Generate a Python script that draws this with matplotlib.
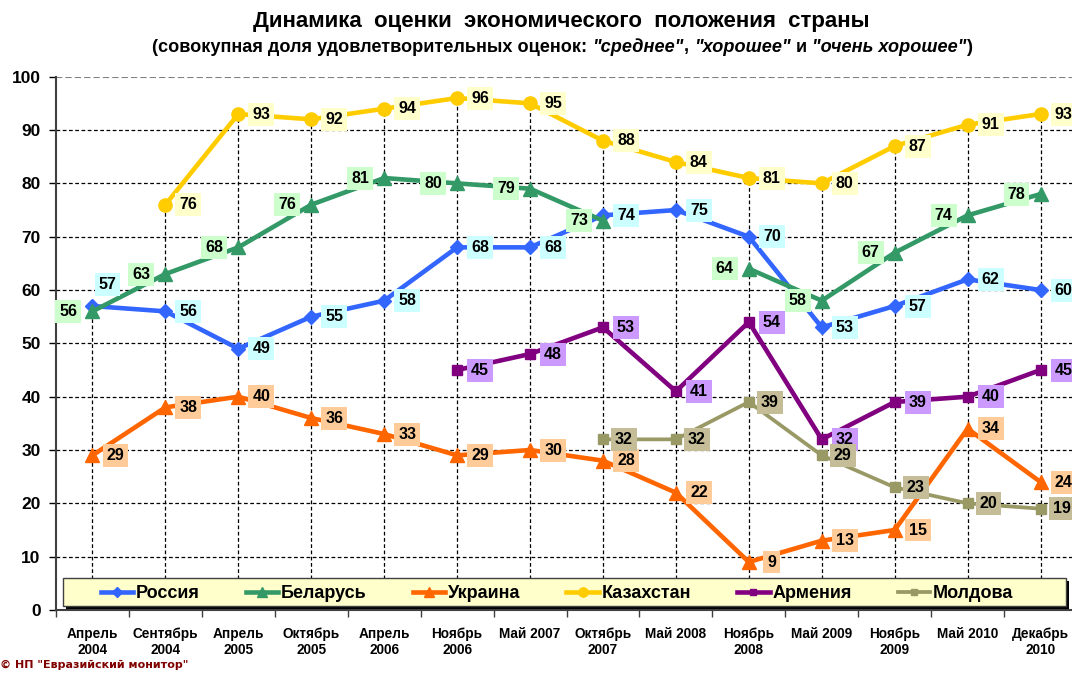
import numpy as np
import matplotlib
matplotlib.use('Agg')
import matplotlib.pyplot as plt
from matplotlib.lines import Line2D
from matplotlib.patches import Rectangle

plt.rcParams['font.family'] = ['Liberation Sans', 'DejaVu Sans']

nan = np.nan
periods = ['Апрель\n2004', 'Сентябрь\n2004', 'Апрель\n2005', 'Октябрь\n2005', 'Апрель\n2006',
           'Ноябрь\n2006', 'Май 2007', 'Октябрь\n2007', 'Май 2008', 'Ноябрь\n2008', 'Май 2009',
           'Ноябрь\n2009', 'Май 2010', 'Декабрь\n2010']

russia = [57, 56, 49, 55, 58, 68, 68, 74, 75, 70, 53, 57, 62, 60]
belarus = [56, 63, 68, 76, 81, 80, 79, 73, nan, 64, 58, 67, 74, 78]
ukraine = [29, 38, 40, 36, 33, 29, 30, 28, 22, 9, 13, 15, 34, 24]
kazakhstan = [nan, 76, 93, 92, 94, 96, 95, 88, 84, 81, 80, 87, 91, 93]
armenia = [nan, nan, nan, nan, nan, 45, 48, 53, 41, 54, 32, 39, 40, 45]
moldova = [nan, nan, nan, nan, nan, nan, nan, 32, 32, 39, 29, 23, 20, 19]

series = [
    # name, values, line colour, marker, size, width, label box colour, label offset (px)
    ('Россия', russia, '#3366FF', 'D', 7.5, 3.3, '#CCFFFF', (23, 0)),
    ('Беларусь', belarus, '#339966', '^', 10.5, 3.3, '#CCFFCC', (-24, 0)),
    ('Украина', ukraine, '#FF6600', '^', 10.5, 3.3, '#FFCC99', (23, 0)),
    ('Казахстан', kazakhstan, '#FFCC00', 'o', 9.5, 3.3, '#FFFFCC', (23, 0)),
    ('Армения', armenia, '#800080', 's', 7.0, 3.3, '#CC99FF', (23, 0)),
    ('Молдова', moldova, '#999966', 's', 6.5, 2.7, '#C4BD97', (21, 0)),
]

W, H = 1072, 673
fig = plt.figure(figsize=(W / 100, H / 100), dpi=100)
ax = fig.add_axes([56 / W, 63 / H, 1021 / W, 533.3 / H])

x = np.arange(len(periods))
ax.set_xlim(-0.5, len(periods) - 0.5)
ax.set_ylim(0, 100)

# grid lines and drop lines
for v in range(10, 100, 10):
    ax.axhline(v, color='black', lw=0.9, ls=(0, (3, 2)), zorder=1)
ax.axhline(100, color='#808080', lw=1.5, ls=(0, (3, 1.5)), zorder=1)
top = np.nanmax(np.array([s[1] for s in series], dtype=float), axis=0)
ax.vlines(x, 0, top, colors='black', lw=0.9, linestyles=(0, (3, 2)), zorder=1)

for name, vals, col, mk, ms, lw, boxcol, off in series:
    vals = np.array(vals, dtype=float)
    ax.plot(x, vals, color=col, lw=lw, marker=mk, ms=ms, mec=col, mfc=col,
            zorder=3, clip_on=False)
    for i, v in enumerate(vals):
        if np.isnan(v):
            continue
        o = off
        if name == 'Россия' and i == 0:
            o = (15, 22)
        ax.annotate(f'{v:.0f}', (x[i], v), xytext=o, textcoords='offset pixels',
                    ha='center', va='center', fontsize=11.5, fontweight='bold',
                    bbox=dict(boxstyle='square,pad=0.25', fc=boxcol, ec='none'),
                    zorder=4, annotation_clip=False)

# axes styling
for s in ['top', 'right']:
    ax.spines[s].set_visible(False)
for s in ['left', 'bottom']:
    ax.spines[s].set_color('#404040')
    ax.spines[s].set_linewidth(1.5)

ax.set_yticks(range(0, 101, 10))
ax.tick_params(axis='y', labelsize=12.5, length=5, width=1, pad=6)
for t in ax.get_yticklabels():
    t.set_fontweight('bold')

ax.set_xticks(x)
ax.set_xticklabels(periods, fontsize=9.8, fontweight='bold', linespacing=1.2, va='top')
ax.set_xticks(np.arange(-0.5, len(periods), 1), minor=True)
ax.tick_params(axis='x', which='major', length=0, pad=12)
ax.tick_params(axis='x', which='minor', length=5, width=1, color='#404040')

# legend box with shadow, then the entries
bx0, bx1, by0, by1 = 63, 1066, 578, 606
to_ax = lambda px, py: ((px - 56) / 1021, (610 - py) / 533.3)
sx, sy = to_ax(bx0 + 3, by1 + 3)
bw = (bx1 - bx0) / 1021
bh = (by1 - by0) / 533.3
ax.add_patch(Rectangle((sx, sy), bw, bh, transform=ax.transAxes, fc='black',
                       ec='none', zorder=5, clip_on=False))
lx, ly = to_ax(bx0, by1)
ax.add_patch(Rectangle((lx, ly), bw, bh, transform=ax.transAxes, fc='#FFFFCC',
                       ec='#404040', lw=1, zorder=5.5, clip_on=False))

handles = [Line2D([], [], color=c, lw=lw, marker=mk, ms=ms * 0.7, mfc=c, mec=c)
           for name, v, c, mk, ms, lw, b, o in series]
cx, cy = to_ax(557, 594)
leg = ax.legend(handles, [s[0] for s in series], loc='center', bbox_to_anchor=(cx, cy),
                ncol=6, prop={'weight': 'bold', 'size': 13}, handlelength=1.8,
                handletextpad=0.15, columnspacing=2.55, borderaxespad=0, borderpad=0,
                frameon=False)
leg.set_zorder(6)

# titles
fig.text(561 / W, 1 - 22 / H, 'Динамика  оценки  экономического  положения  страны',
         ha='center', va='center', fontsize=16, fontweight='bold')

sub_parts = [('(совокупная доля удовлетворительных оценок:', 'normal'), (' ', 'normal'),
             ('"среднее"', 'italic'), (',', 'normal'), (' ', 'normal'),
             ('"хорошее"', 'italic'), (' ', 'normal'), ('и', 'normal'), (' ', 'normal'),
             ('"очень хорошее"', 'italic'), (')', 'normal')]
sub_size = 13.1
r = fig.canvas.get_renderer()


def text_w(s, st):
    t = fig.text(0, 0, s, fontsize=sub_size, fontweight='bold', style=st)
    w = t.get_window_extent(renderer=r).width
    t.remove()
    return w


space_w = text_w('x x', 'normal') - text_w('xx', 'normal')
widths = [space_w if s == ' ' else text_w(s, st) for s, st in sub_parts]
xpos = 562 - sum(widths) / 2
for (s, st), w in zip(sub_parts, widths):
    if s != ' ':
        fig.text(xpos / W, 1 - 47 / H, s, ha='left', va='center', fontsize=sub_size,
                 fontweight='bold', style=st)
    xpos += w

fig.text(0, 8 / H, '© НП "Евразийский монитор"', ha='left', va='center', fontsize=8,
         fontweight='bold', color='#800000', family='DejaVu Sans')

fig.savefig('out.png', dpi=100)
